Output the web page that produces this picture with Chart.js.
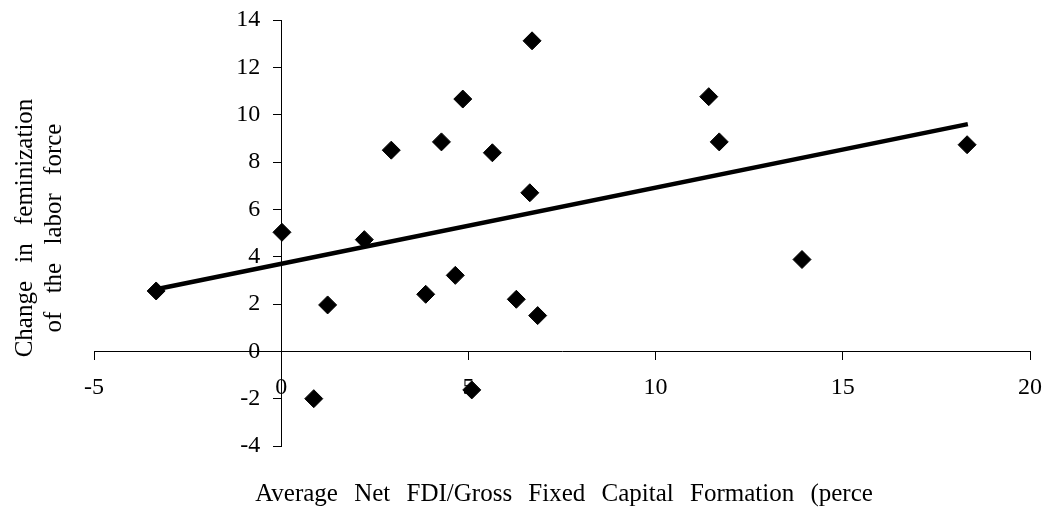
<!DOCTYPE html>
<html>
<head>
<meta charset="utf-8">
<script src="https://cdn.jsdelivr.net/npm/chart.js@4/dist/chart.umd.min.js"></script>
<style>
  html, body { margin: 0; padding: 0; background: #ffffff; }
  #wrap { width: 1049px; height: 508px; }
</style>
</head>
<body>
<div id="wrap"><canvas id="c" width="1049" height="508"></canvas></div>
<script>
// ---- data ----
const fdiShare = [-3.34, 0.02, 0.87, 1.24, 2.22, 2.94, 3.86, 4.28, 4.65, 4.85, 5.09, 5.64, 6.28, 6.64, 6.70, 6.85, 11.42, 11.70, 13.91, 18.32];
const feminChange = [2.55, 5.03, -2.0, 1.96, 4.72, 8.50, 2.41, 8.85, 3.21, 10.66, -1.63, 8.39, 2.20, 6.70, 13.12, 1.51, 10.76, 8.85, 3.88, 8.73];
const trendX = [-3.34, 18.34];
const trendY = [2.62, 9.60];
const xTickRange = [-5, 20, 5];   // min, max, step
const yTickRange = [-4, 14, 2];
const xTitle = "Average Net FDI/Gross Fixed Capital Formation (perce";
const yTitleLines = ["Change in feminization", "of the labor force"];

const FONT = "'Liberation Serif', 'Times New Roman', serif";

const scatterPts = fdiShare.map((x, i) => ({ x: x, y: feminChange[i] }));
const trendPts = trendX.map((x, i) => ({ x: x, y: trendY[i] }));

const titlePlugin = {
  id: 'axisTitles',
  afterDraw(chart) {
    const ctx = chart.ctx;
    const area = chart.chartArea;
    ctx.save();
    ctx.fillStyle = '#000';
    ctx.font = "25px " + FONT;
    try { ctx.wordSpacing = '10px'; } catch (e) {}
    ctx.textAlign = 'center';
    ctx.textBaseline = 'alphabetic';
    ctx.fillText(xTitle, (area.left + area.right) / 2 + 2, 501);
    ctx.restore();

    ctx.save();
    ctx.fillStyle = '#000';
    ctx.font = "25px " + FONT;
    try { ctx.wordSpacing = '12px'; } catch (e) {}
    ctx.textAlign = 'center';
    ctx.textBaseline = 'alphabetic';
    const cy = (area.top + area.bottom) / 2 - 5;
    const baseX = [32, 61];
    yTitleLines.forEach((line, i) => {
      ctx.save();
      ctx.translate(baseX[i], cy);
      ctx.rotate(-Math.PI / 2);
      ctx.fillText(line, 0, 0);
      ctx.restore();
    });
    ctx.restore();
  }
};

// y-axis labels: shift left of the crossing axis by tick length + padding
const Y_LABEL_GAP = 21;
function shiftYLabels(s) {
  if (s.__shifted) return;
  const orig = s._computeLabelItems;
  s._computeLabelItems = function (ca) {
    const items = orig.call(this, ca);
    items.forEach(it => { it.options.translation[0] -= Y_LABEL_GAP; });
    return items;
  };
  s.__shifted = true;
}
function noLayoutSpace(s) {
  if (s.isHorizontal()) s.height = 0; else s.width = 0;
  s.paddingTop = 0; s.paddingBottom = 0; s.paddingLeft = 0; s.paddingRight = 0;
}

new Chart(document.getElementById('c'), {
  data: {
    datasets: [
      {
        type: 'line',
        label: 'trend',
        data: trendPts,
        borderColor: '#000',
        borderWidth: 4.5,
        pointRadius: 0,
        fill: false,
        tension: 0,
        borderCapStyle: 'butt',
        order: 2
      },
      {
        type: 'scatter',
        label: 'countries',
        data: scatterPts,
        pointStyle: 'rectRot',
        pointRadius: 9,
        pointBorderWidth: 1,
        backgroundColor: '#000',
        borderColor: '#000',
        order: 1
      }
    ]
  },
  options: {
    responsive: false,
    animation: false,
    events: [],
    layout: { padding: { left: 94, right: 19, top: 20, bottom: 62 } },
    plugins: { legend: { display: false }, tooltip: { enabled: false }, title: { display: false } },
    scales: {
      x: {
        type: 'linear',
        position: { y: 0 },
        min: xTickRange[0], max: xTickRange[1],
        afterFit: noLayoutSpace,
        ticks: { stepSize: xTickRange[2], autoSkip: false, maxRotation: 0, padding: 14, color: '#000', font: { family: FONT, size: 24 } },
        grid: { display: true, drawOnChartArea: false, drawTicks: true, tickLength: 8, color: '#000', lineWidth: 1 },
        border: { display: true, color: '#000', width: 1 }
      },
      y: {
        type: 'linear',
        position: { x: 0 },
        min: yTickRange[0], max: yTickRange[1],
        afterFit: noLayoutSpace,
        afterUpdate: shiftYLabels,
        ticks: { stepSize: yTickRange[2], autoSkip: false, padding: 14, color: '#000', font: { family: FONT, size: 24 } },
        grid: { display: true, drawOnChartArea: false, drawTicks: true, tickLength: 8, color: '#000', lineWidth: 1 },
        border: { display: true, color: '#000', width: 1 }
      }
    }
  },
  plugins: [titlePlugin]
});
</script>
</body>
</html>
